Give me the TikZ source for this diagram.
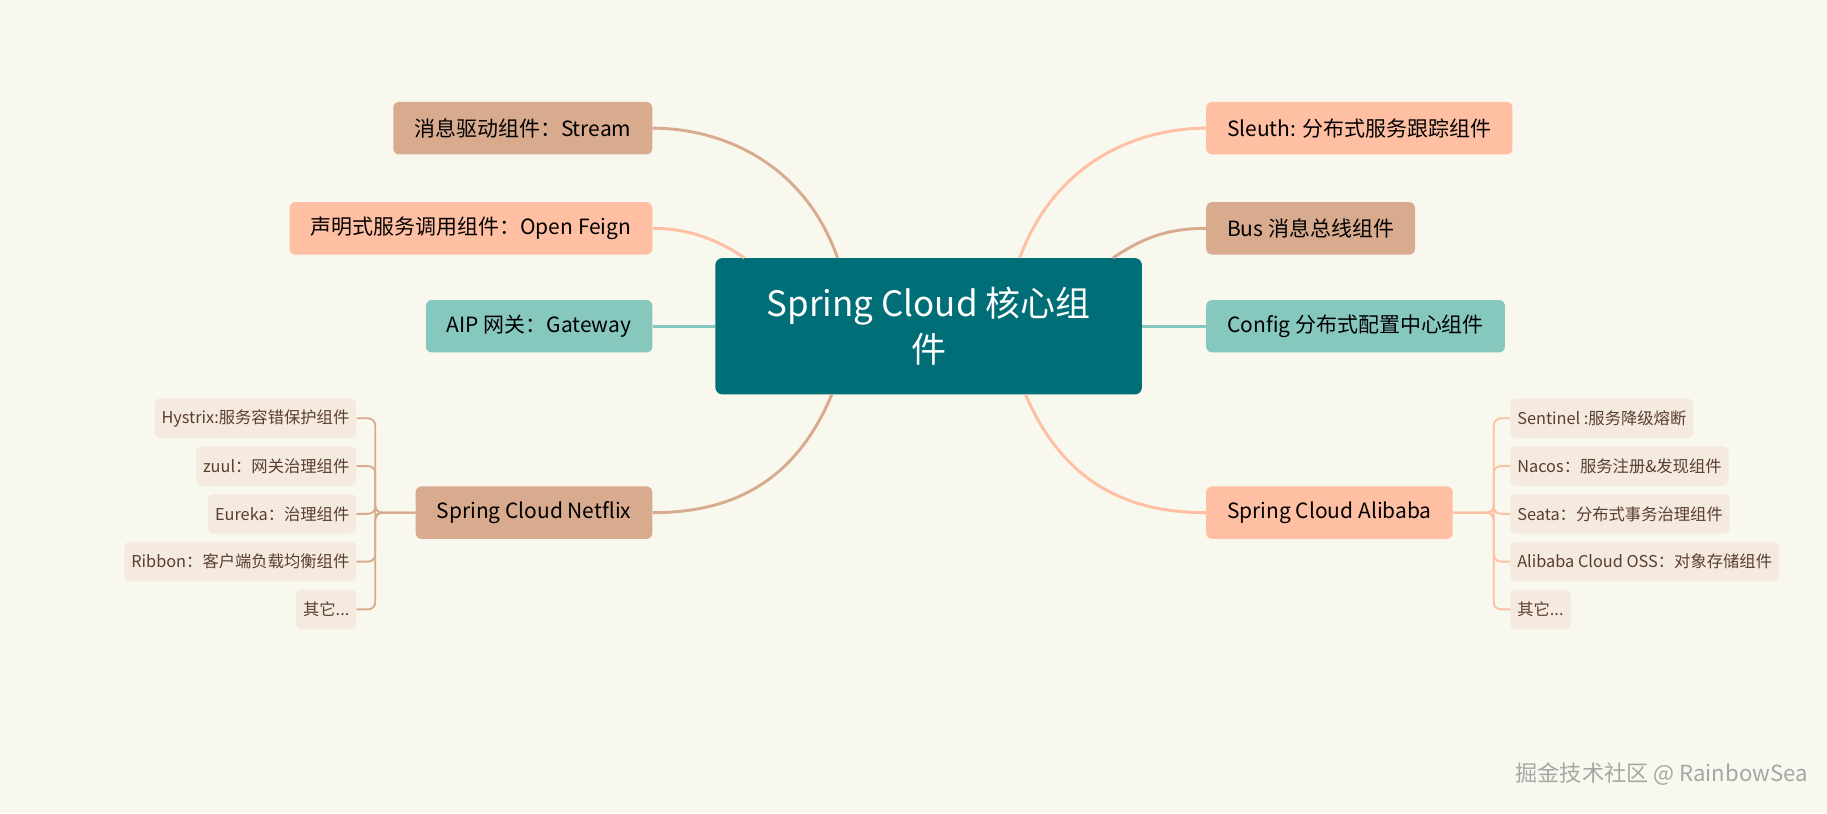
\documentclass[tikz,border=0pt]{standalone}
\usepackage{fontspec}
\setmainfont{Noto Sans CJK SC}
\definecolor{bgc}{HTML}{F9F8EE}
\definecolor{coreteal}{HTML}{006E77}
\definecolor{tan}{HTML}{D8AA8E}
\definecolor{salmon}{HTML}{FFBFA3}
\definecolor{mint}{HTML}{86C7BE}
\definecolor{leaf}{HTML}{F4EADF}
\definecolor{leaftext}{HTML}{5A3E2E}
\newcommand{\etcdots}{其它.\kern0pt.\kern0pt.}
\tikzset{
  branch/.style={rounded corners=5pt, minimum height=45pt, inner xsep=18pt, font=\fontsize{18}{20}\selectfont},
  leafbox/.style={fill=leaf, rounded corners=5pt, minimum height=34pt, inner xsep=6pt, text=leaftext, font=\fontsize{14}{16}\selectfont},
  link/.style={line width=2.5pt, #1},
  brace/.style={line width=1.6pt, #1, rounded corners=6pt}
}
\begin{document}
\begin{tikzpicture}[x=1pt,y=-1pt]
	\fill[bgc] (0,0) rectangle (1568,698);
	\useasboundingbox (0,0) rectangle (1568,698);
	% centre
	\node[fill=coreteal, text=white, rounded corners=6pt, minimum width=366pt, minimum height=117pt, align=center, font=\fontsize{30}{40}\selectfont] (core) at (797,280) {Spring Cloud 核心组\\件};
	% left branches
	\node[branch, fill=tan, anchor=east] (stream) at (560,110) {消息驱动组件：Stream};
	\node[branch, fill=salmon, anchor=east] (feign) at (560,196) {声明式服务调用组件：Open Feign};
	\node[branch, fill=mint, anchor=east] (gateway) at (560,280) {AIP 网关：Gateway};
	\node[branch, fill=tan, anchor=east] (netflix) at (560,440) {Spring Cloud Netflix};
	% right branches
	\node[branch, fill=salmon, anchor=west] (sleuth) at (1035,110) {Sleuth: 分布式服务跟踪组件};
	\node[branch, fill=tan, anchor=west] (bus) at (1035,196) {Bus 消息总线组件};
	\node[branch, fill=mint, anchor=west] (config) at (1035,280) {Config 分布式配置中心组件};
	\node[branch, fill=salmon, anchor=west] (alibaba) at (1035,440) {Spring Cloud Alibaba};
	% connectors
	\draw[link=tan] (core.north west) ++(105,0) .. controls (690,140) and (620,110) .. (stream.east);
	\draw[link=salmon] (core.north west) ++(25,0) .. controls (615,205) and (590,196) .. (feign.east);
	\draw[link=mint] (core.west) -- (gateway.east);
	\draw[link=tan] (core.south west) ++(100,0) .. controls (680,420) and (620,440) .. (netflix.east);
	\draw[link=salmon] (core.north east) ++(-105,0) .. controls (905,140) and (975,110) .. (sleuth.west);
	\draw[link=tan] (core.north east) ++(-25,0) .. controls (980,205) and (1000,196) .. (bus.west);
	\draw[link=mint] (core.east) -- (config.west);
	\draw[link=salmon] (core.south east) ++(-100,0) .. controls (915,420) and (975,440) .. (alibaba.west);
	% netflix leaves
	\foreach \t [count=\i] in {Hystrix:服务容错保护组件, zuul：网关治理组件, Eureka：治理组件, Ribbon：客户端负载均衡组件, \etcdots}
	{
		\node[leafbox, anchor=east] (nf\i) at (306,318+41*\i) {\t};
		\draw[brace=tan] (nf\i.east) -| (322,440) -- (netflix.west);
	}
	% alibaba leaves
	\foreach \t [count=\i] in {Sentinel :服务降级熔断, Nacos：服务注册\&发现组件, Seata：分布式事务治理组件, Alibaba Cloud OSS：对象存储组件, \etcdots}
	{
		\node[leafbox, anchor=west] (ab\i) at (1296,318+41*\i) {\t};
		\draw[brace=salmon] (ab\i.west) -| (1282,440) -- (alibaba.east);
	}
	\node[text=gray!70, anchor=east, font=\fontsize{19}{20}\selectfont] (mark) at (1555,664) {掘金技术社区 @ RainbowSea};
\end{tikzpicture}
\end{document}
